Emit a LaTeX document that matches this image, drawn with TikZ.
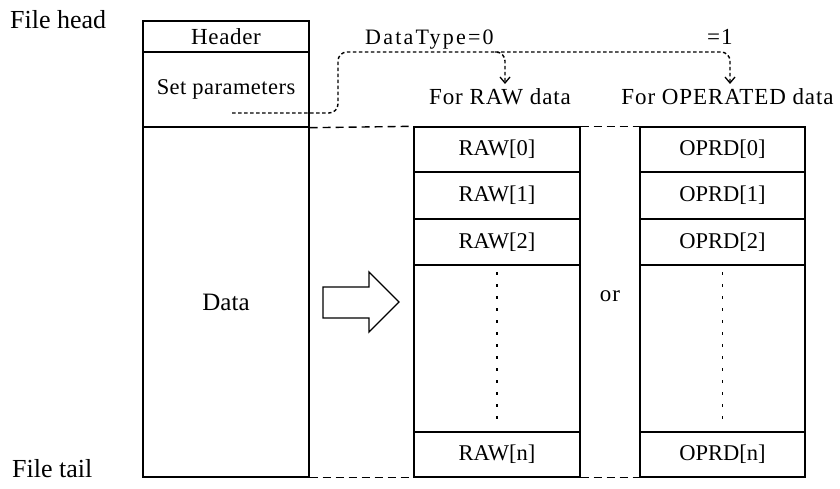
\documentclass[tikz,border=0pt]{standalone}
\usepackage{fontspec}
\setmainfont{Liberation Serif}
\usetikzlibrary{arrows.meta}
\tikzset{
  cell/.style={draw, line width=1.4pt, rectangle, inner sep=0pt, font=\fontsize{22.5}{26}\selectfont},
  rawcell/.style={cell, minimum width=166pt},
  opcell/.style={cell, minimum width=165pt},
  gap/.style={line width=1.4pt, dash pattern=on 8pt off 5pt},
  sel/.style={line width=1.4pt, dash pattern=on 3.5pt off 2.5pt, rounded corners=9pt},
  seltip/.style={-{Straight Barb[length=6pt,width=10pt,line width=1.3pt]}},
  lbl/.style={inner sep=0pt, font=\fontsize{23}{26}\selectfont\addfontfeatures{LetterSpace=4}},
  big/.style={inner sep=0pt, font=\fontsize{26}{29}\selectfont},
  vdots/.style={line width=1.6pt, dash pattern=on 3pt off 9pt}
}
\begin{document}
\begin{tikzpicture}[x=1pt,y=-1pt]
\useasboundingbox (0,0) rectangle (840,489);
% left file structure
\node[cell, minimum width=166pt, minimum height=31pt, font=\fontsize{23}{26}\selectfont\addfontfeatures{LetterSpace=3}] (header) at (226,36.5) {Header};
\node[cell, minimum width=166pt, minimum height=75pt, font=\fontsize{22.5}{26}\selectfont\addfontfeatures{LetterSpace=2}] (params) at (226,89.5) {Set parameters};
\node[cell, minimum width=166pt, minimum height=350pt, font=\fontsize{25}{28}\selectfont] (data) at (226,302) {Data};
% RAW column
\node[rawcell, minimum height=45pt] (raw0) at (497,149.5) {RAW[0]};
\node[rawcell, minimum height=47pt] (raw1) at (497,195.5) {RAW[1]};
\node[rawcell, minimum height=46pt] (raw2) at (497,242) {RAW[2]};
\node[rawcell, minimum height=167pt] (rawd) at (497,348.5) {};
\node[rawcell, minimum height=45pt] (rawn) at (497,454.5) {RAW[n]};
% OPRD column
\node[opcell, minimum height=45pt] (op0) at (722.5,149.5) {OPRD[0]};
\node[opcell, minimum height=47pt] (op1) at (722.5,195.5) {OPRD[1]};
\node[opcell, minimum height=46pt] (op2) at (722.5,242) {OPRD[2]};
\node[opcell, minimum height=167pt] (opd) at (722.5,348.5) {};
\node[opcell, minimum height=45pt] (opn) at (722.5,454.5) {OPRD[n]};
% vertical dots
\draw[vdots] ([yshift=-8pt]rawd.north) -- ([yshift=8pt]rawd.south);
\draw[vdots] ([yshift=-8pt]opd.north) -- ([yshift=8pt]opd.south);
% dashed boundaries
\draw[gap] (params.south east) -- (raw0.north west);
\draw[gap] (raw0.north east) -- (op0.north west);
\draw[gap] (data.south east) -- (rawn.south west);
\draw[gap] (rawn.south east) -- (opn.south west);
% labels
\node[big, anchor=base west] (fhead) at (10,29) {File head};
\node[big, anchor=base west] (ftail) at (12,477) {File tail};
\node[lbl] (orlbl) at (610,296) {or};
\node[lbl, anchor=base west, font=\fontsize{22}{26}\selectfont\addfontfeatures{LetterSpace=10}] (dt0) at (365,45) {DataType=0};
\node[lbl, anchor=base west] (dt1) at (707,45) {=1};
\node[lbl, anchor=base] (forraw) at (500,105) {For RAW data};
\node[lbl, anchor=base] (forop) at (727.5,105) {For OPERATED data};
% block arrow
\draw[line width=1.4pt, line join=miter]
  (323,287) -- (369,287) -- (369,272) -- (399,302) -- (369,332) -- (369,318) -- (323,318) -- cycle;
% selection connector
\coordinate (ps) at (232,113);
\coordinate (rawend) at (505,84);
\coordinate (opend) at (730,84);
\draw[sel, seltip] (ps) -- (338,113) -- (338,52) -- (505,52) -- (rawend);
\draw[sel, seltip] (495,52) -- (730,52) -- (opend);
\end{tikzpicture}
\end{document}
